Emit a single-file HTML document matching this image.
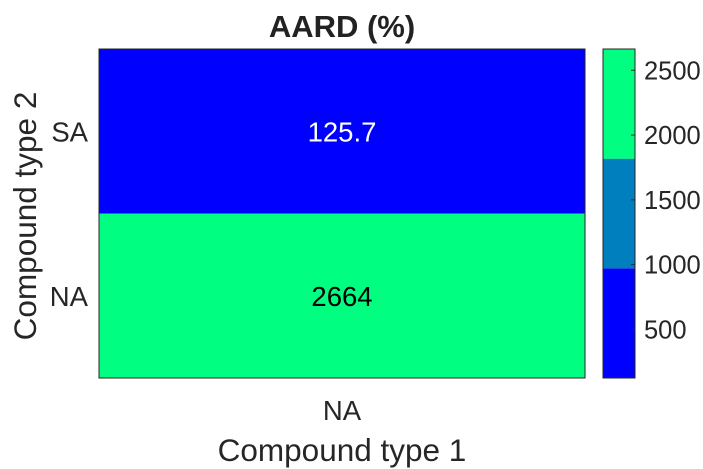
<!DOCTYPE html>
<html><head><meta charset="utf-8"><style>
body{margin:0;background:#fff;}
svg{display:block;font-family:"Liberation Sans",Arial,sans-serif;}
</style></head><body>
<svg id="c" width="703" height="469" viewBox="0 0 703 469">
<text x="342" y="37" font-size="31" font-weight="bold" text-anchor="middle" fill="#222">AARD (%)</text>
<g id="cells"></g>
<g id="cbar"></g>
<text x="342" y="461" font-size="31.5" text-anchor="middle" fill="#262626">Compound type 1</text>
<text transform="translate(36,216) rotate(-90)" font-size="31.5" text-anchor="middle" fill="#262626">Compound type 2</text>
</svg>
<script>
const xCats=["NA"];
const yCats=["SA","NA"];
const values=[[125.7],[2664]];
const labels=[["125.7"],["2664"]];
const cbTicks=[500,1000,1500,2000,2500];
const NS="http://www.w3.org/2000/svg";
const L=99,R=585,T=49,B=378,CL=603,CR=635;
const vmin=125.7,vmax=2664;
const cmap=["#0000ff","#007fbf","#00ff80"];
function col(v){let t=(v-vmin)/(vmax-vmin);let i=Math.min(2,Math.floor(t*3));return cmap[i];}
function mk(tag,a,p){const e=document.createElementNS(NS,tag);for(const k in a)e.setAttribute(k,a[k]);p.appendChild(e);return e;}
const cells=document.getElementById('cells');
const cw=(R-L)/xCats.length,ch=(B-T)/yCats.length;
yCats.forEach((yc,i)=>{xCats.forEach((xc,j)=>{
 const v=values[i][j];
 const r=mk('rect',{x:L+j*cw,y:T+i*ch,width:cw,height:ch,fill:col(v)},cells);
 
 
 const t=mk('text',{x:L+j*cw+cw/2,y:T+i*ch+ch/2+10,'font-size':27.5,'text-anchor':'middle',fill:col(v)==cmap[0]?'#fff':'#000'},cells);
 t.textContent=labels[i][j];
 
 
});
 const yl=mk('text',{x:88,y:T+i*ch+ch/2+10,'font-size':27.5,'text-anchor':'end',fill:'#262626'},cells);
 yl.textContent=yc;
 
 
});
xCats.forEach((xc,j)=>{
 const xl=mk('text',{x:L+j*cw+cw/2,y:420,'font-size':27.5,'text-anchor':'middle',fill:'#262626'},cells);
 xl.textContent=xc;
 
 
});
const fr=mk('rect',{x:L,y:T,width:R-L,height:B-T,fill:'none',stroke:'#262626','stroke-width':1},cells);


const cb=document.getElementById('cbar');
function cy(v){return B-(v-vmin)/(vmax-vmin)*(B-T);}
for(let i=0;i<3;i++){
 const v0=vmin+(vmax-vmin)*i/3,v1=vmin+(vmax-vmin)*(i+1)/3;
 const r=mk('rect',{x:CL,y:cy(v1),width:CR-CL,height:cy(v0)-cy(v1),fill:cmap[i]},cb);
 
 
}
const cf=mk('rect',{x:CL,y:T,width:CR-CL,height:B-T,fill:'none',stroke:'#262626','stroke-width':1},cb);


cbTicks.forEach(v=>{
 const y=cy(v);
 mk('line',{x1:CR-4,x2:CR,y1:y,y2:y,stroke:'#262626'},cb);
 const t=mk('text',{x:644,y:y+9,'font-size':25.5,fill:'#262626'},cb);
 t.textContent=v;
 
 
});
</script>
</body></html>
